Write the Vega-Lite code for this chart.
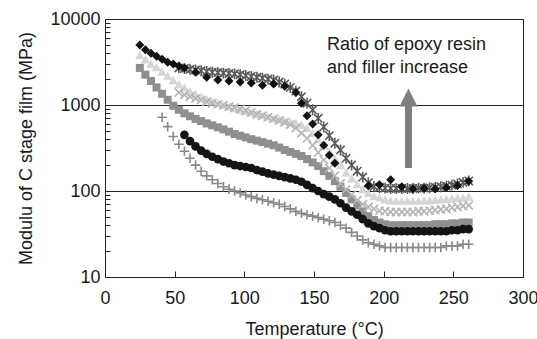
{
  "$schema": "https://vega.github.io/schema/vega-lite/v6.json",
  "width": 418,
  "height": 258,
  "autosize": {"type": "none"},
  "padding": {"left": 105, "top": 19, "right": 14, "bottom": 62},
  "background": "white",
  "config": {
    "view": {"stroke": "#222", "strokeWidth": 1},
    "font": "Liberation Sans",
    "axis": {
      "labelFont": "Liberation Sans", "titleFont": "Liberation Sans",
      "labelFontSize": 18, "titleFontSize": 18, "titleFontWeight": "normal",
      "labelColor": "#1a1a1a", "titleColor": "#1a1a1a",
      "domainColor": "#222", "tickColor": "#222", "labelOverlap": false, "labelBound": false, "labelFlush": false
    }
  },
  "data": {"values": [
    {"t":25,"A":5000,"C":3800,"E":2700},
    {"t":29,"A":4400,"C":3400,"E":2250},
    {"t":33,"A":4000,"C":3000,"E":1900},
    {"t":37,"A":3700,"C":2750,"E":1600},
    {"t":41,"A":3400,"C":2450,"E":1350,"G":720},
    {"t":45,"A":3150,"C":2200,"E":1150,"G":560},
    {"t":49,"A":3000,"C":1950,"E":980,"G":430},
    {"t":53,"A":2850,"B":2700,"C":1750,"D":1400,"E":880,"G":350},
    {"t":57,"A":2700,"B":2650,"C":1600,"D":1320,"E":800,"F":450,"G":290},
    {"t":61,"B":2600,"C":1450,"D":1250,"E":740,"F":380,"G":240},
    {"t":65,"A":2400,"B":2550,"C":1350,"D":1190,"E":690,"F":330,"G":200},
    {"t":69,"B":2500,"C":1250,"D":1140,"E":650,"F":295,"G":170},
    {"t":73,"A":2100,"B":2450,"C":1170,"D":1090,"E":610,"F":270,"G":150},
    {"t":77,"B":2400,"C":1100,"D":1050,"E":580,"F":250,"G":135},
    {"t":81,"A":1950,"B":2380,"C":1050,"D":1020,"E":550,"F":235,"G":122},
    {"t":85,"B":2350,"C":1000,"D":990,"E":520,"F":220,"G":112},
    {"t":89,"A":1900,"B":2330,"C":960,"D":960,"E":490,"F":210,"G":105},
    {"t":93,"B":2300,"C":920,"D":930,"E":460,"F":200,"G":100},
    {"t":97,"A":1850,"B":2250,"C":880,"D":900,"E":440,"F":195,"G":95},
    {"t":101,"B":2200,"C":850,"D":860,"E":420,"F":190,"G":90},
    {"t":105,"A":1800,"B":2150,"C":820,"D":820,"E":400,"F":185,"G":86},
    {"t":109,"B":2100,"C":790,"D":780,"E":385,"F":175,"G":82},
    {"t":113,"A":1700,"B":2050,"C":760,"D":750,"E":370,"F":168,"G":79},
    {"t":117,"B":2000,"C":730,"D":720,"E":355,"F":160,"G":76},
    {"t":121,"A":1750,"B":1950,"C":700,"D":690,"E":340,"F":155,"G":73},
    {"t":125,"B":1850,"C":680,"D":660,"E":320,"F":150,"G":70},
    {"t":129,"A":1650,"B":1750,"C":660,"D":630,"E":300,"F":145,"G":66},
    {"t":133,"B":1600,"C":640,"D":590,"E":285,"F":140,"G":62},
    {"t":137,"A":1400,"B":1450,"C":620,"D":540,"E":270,"F":135,"G":58},
    {"t":141,"A":1050,"B":1250,"C":590,"D":470,"E":255,"F":128,"G":55},
    {"t":145,"A":750,"B":1050,"C":540,"D":410,"E":235,"F":118,"G":53},
    {"t":149,"A":600,"B":880,"C":470,"D":340,"E":215,"F":108,"G":51},
    {"t":153,"A":450,"B":700,"C":400,"D":280,"E":195,"F":100,"G":49},
    {"t":157,"A":340,"B":555,"C":340,"D":230,"E":170,"F":92,"G":47},
    {"t":161,"A":260,"B":440,"C":290,"D":185,"E":150,"F":86,"G":45},
    {"t":165,"A":210,"B":360,"C":240,"D":150,"E":130,"F":80,"G":43},
    {"t":169,"B":300,"C":200,"D":122,"E":112,"F":72,"G":40},
    {"t":173,"B":240,"C":165,"D":104,"E":95,"F":64,"G":37},
    {"t":177,"B":200,"C":140,"D":90,"E":80,"F":58,"G":33},
    {"t":181,"B":170,"C":120,"D":78,"E":68,"F":53,"G":30},
    {"t":185,"B":145,"C":105,"D":70,"E":58,"F":47,"G":27},
    {"t":189,"A":115,"B":125,"C":95,"D":65,"E":51,"F":42,"G":25},
    {"t":193,"B":113,"C":88,"D":62,"E":46,"F":39,"G":24},
    {"t":197,"A":118,"B":110,"C":84,"D":59,"E":43,"F":37,"G":23},
    {"t":201,"B":108,"C":80,"D":58,"E":41,"F":35,"G":22},
    {"t":205,"A":135,"B":107,"C":78,"D":57,"E":40,"F":34,"G":22},
    {"t":209,"B":107,"C":77,"D":57,"E":40,"F":34,"G":22},
    {"t":213,"A":112,"B":107,"C":77,"D":57,"E":40,"F":34,"G":22},
    {"t":217,"B":107,"C":77,"D":57,"E":40,"F":34,"G":22},
    {"t":221,"A":106,"B":107,"C":77,"D":57,"E":40,"F":34,"G":22},
    {"t":225,"B":108,"C":77,"D":58,"E":40,"F":34,"G":22},
    {"t":229,"A":108,"B":108,"C":78,"D":58,"E":40,"F":34,"G":22},
    {"t":233,"B":109,"C":78,"D":59,"E":40,"F":34,"G":22},
    {"t":237,"A":106,"B":110,"C":79,"D":60,"E":41,"F":34,"G":22},
    {"t":241,"B":112,"C":80,"D":61,"E":41,"F":34,"G":22},
    {"t":245,"A":110,"B":114,"C":81,"D":62,"E":41,"F":34,"G":23},
    {"t":249,"B":117,"C":82,"D":64,"E":42,"F":35,"G":23},
    {"t":253,"A":116,"B":121,"C":83,"D":65,"E":42,"F":35,"G":23},
    {"t":257,"B":126,"C":84,"D":67,"E":43,"F":36,"G":24},
    {"t":261,"A":130,"B":131,"C":86,"D":68,"E":43,"F":36,"G":24}
  ]},
  "transform": [
    {"fold": ["A","B","C","D","E","F","G"], "as": ["series","v"]},
    {"filter": "isValid(datum.v)"}
  ],
  "encoding": {
    "x": {"field": "t", "type": "quantitative",
      "scale": {"domain": [0, 300], "nice": false, "zero": false},
      "axis": {"title": "Temperature (°C)", "values": [0,50,100,150,200,250,300], "grid": false,
        "tickSize": -6, "labelPadding": 18, "titlePadding": 13}},
    "y": {"field": "v", "type": "quantitative",
      "scale": {"type": "log", "domain": [10, 10000], "nice": false},
      "axis": {"title": "Modulu of C stage film (MPa)",
        "values": [10,20,30,40,50,60,70,80,90,100,200,300,400,500,600,700,800,900,1000,2000,3000,4000,5000,6000,7000,8000,9000,10000],
        "labelExpr": "(datum.value==10||datum.value==100||datum.value==1000||datum.value==10000) ? ''+datum.value : ''",
        "tickSize": -5, "labelPadding": 10, "titlePadding": 14,
        "grid": true,
        "gridColor": "#222",
        "gridOpacity": {"condition": {"test": "datum.value==100||datum.value==1000", "value": 1}, "value": 0}}}
  },
  "layer": [
    {"transform": [{"filter": "datum.series==='E'"}],
     "mark": {"type": "point", "shape": "square", "filled": true, "color": "#8f8f8f", "size": 64, "opacity": 1}},
    {"transform": [{"filter": "datum.series==='F'"}],
     "mark": {"type": "point", "shape": "circle", "filled": true, "color": "#141414", "size": 75, "opacity": 1}},
    {"transform": [{"filter": "datum.series==='G'"}],
     "mark": {"type": "point", "shape": "M-1,0L1,0M0,-1L0,1", "filled": false, "color": "#888888", "size": 90, "strokeWidth": 1.6, "opacity": 1}},
    {"transform": [{"filter": "datum.series==='C'"}],
     "mark": {"type": "point", "shape": "triangle-up", "filled": true, "color": "#d6d6d6", "size": 90, "opacity": 1}},
    {"transform": [{"filter": "datum.series==='D'"}],
     "mark": {"type": "point", "shape": "M-1,-1L1,1M-1,1L1,-1", "filled": false, "color": "#b5b5b5", "size": 70, "strokeWidth": 1.6, "opacity": 1}},
    {"transform": [{"filter": "datum.series==='B'"}],
     "mark": {"type": "point", "shape": "M-1,-1L1,1M-1,1L1,-1M0,-1.3L0,1.3", "filled": false, "color": "#5a5a5a", "size": 70, "strokeWidth": 1.6, "opacity": 1}},
    {"transform": [{"filter": "datum.series==='A'"}],
     "mark": {"type": "point", "shape": "diamond", "filled": true, "color": "#111111", "size": 81, "opacity": 1}},
    {"data": {"values": [{"t": 217.8, "v": 185, "v2": 973}]},
     "mark": {"type": "rule", "color": "#7f7f7f", "strokeWidth": 7},
     "encoding": {"y2": {"field": "v2"}}},
    {"data": {"values": [{"t": 217.8, "v": 1222}]},
     "mark": {"type": "point", "shape": "M0,-1L1,1L-1,1Z", "filled": true, "color": "#7f7f7f", "size": 324, "opacity": 1, "strokeWidth": 0}},
    {"data": {"values": [{"t": 159.3, "v": 4360, "label": "Ratio of epoxy resin"}, {"t": 159.3, "v": 2356, "label": "and filler increase"}]},
     "mark": {"type": "text", "align": "left", "baseline": "alphabetic", "fontSize": 18, "font": "Liberation Sans", "color": "#1a1a1a"},
     "encoding": {"text": {"field": "label"}}}
  ]
}
